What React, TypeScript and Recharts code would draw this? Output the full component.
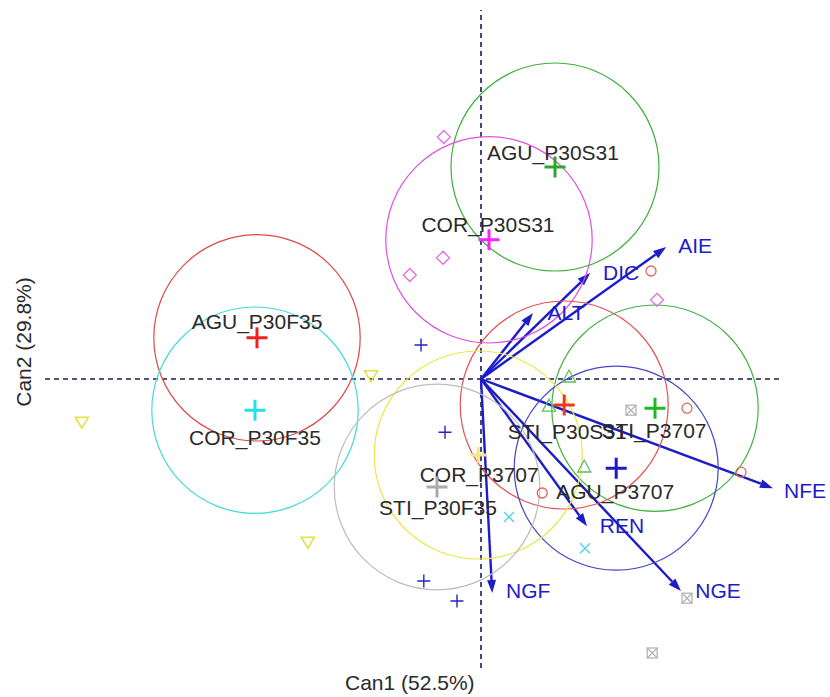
import { ScatterChart, Scatter, XAxis, YAxis, ReferenceLine } from 'recharts';

// canonical scores (Can1, Can2)
const groupNames = ['AGU_P30S31', 'COR_P30S31', 'AGU_P30F35', 'COR_P30F35', 'STI_P30S31', 'STI_P3707', 'AGU_P3707', 'COR_P3707', 'STI_P30F35'];
const groupCan1 = [1.85, 0.2, -5.6, -5.65, 2.08, 4.35, 3.38, -0.07, -1.1];
const groupCan2 = [5.3, 3.48, 1.03, -0.78, -0.65, -0.73, -2.23, -1.9, -2.7];
const groupRadius = [2.6, 2.58, 2.58, 2.58, 2.6, 2.58, 2.55, 2.6, 2.57];

const magentaObs = [
  { x: -0.93, y: 6.05 },
  { x: -1.78, y: 2.6 },
  { x: -0.95, y: 3.03 },
  { x: 4.4, y: 1.98 },
];
const greenObs = [
  { x: 2.2, y: 0.05 },
  { x: 1.7, y: -0.68 },
  { x: 2.58, y: -2.2 },
];
const redObs = [
  { x: 4.25, y: 2.7 },
  { x: 5.15, y: -0.73 },
  { x: 6.5, y: -2.33 },
  { x: 1.53, y: -2.85 },
];
const blueObs = [
  { x: -1.5, y: 0.85 },
  { x: -0.9, y: -1.33 },
  { x: -1.43, y: -5.05 },
  { x: -0.6, y: -5.55 },
];
const yellowObs = [
  { x: -2.75, y: 0.08 },
  { x: -9.98, y: -1.08 },
  { x: -4.33, y: -4.08 },
];
const cyanObs = [
  { x: 0.7, y: -3.45 },
  { x: 2.6, y: -4.23 },
];
const grayObs = [
  { x: 3.75, y: -0.78 },
  { x: 5.15, y: -5.48 },
  { x: 4.28, y: -6.85 },
];

const variableNames = ['AIE', 'DIC', 'ALT', 'NFE', 'NGE', 'REN', 'NGF'];
const variableCan1 = [4.63, 2.73, 1.3, 7.3, 5.0, 2.65, 0.28];
const variableCan2 = [3.3, 2.65, 1.65, -2.73, -5.3, -3.68, -5.35];

const axisXRange = [-10.9, 7.475];
const axisYRange = [-7.225, 9.225];

// layout
const W = 830;
const H = 697;
const X_MIN = -12.025;
const X_MAX = 8.725;
const Y_MIN = -7.95;
const Y_MAX = 9.475;
const PPU = W / (X_MAX - X_MIN);
const FONT = '"Liberation Sans", Arial, sans-serif';
const ARROW = '#1c1cc8';

const groupStyle: Record<string, { circle: string; mark: string; size: number; dx: number; dy: number }> = {
  AGU_P30S31: { circle: '#3fae3f', mark: '#2aa82a', size: 10.5, dx: -2, dy: -15 },
  COR_P30S31: { circle: '#e050e0', mark: '#ff20ff', size: 10.5, dx: -1, dy: -15 },
  AGU_P30F35: { circle: '#e04848', mark: '#ee2020', size: 10.5, dx: 0, dy: -16 },
  COR_P30F35: { circle: '#40dcdc', mark: '#20e0e8', size: 10.5, dx: 0, dy: 27 },
  STI_P30S31: { circle: '#e65050', mark: '#ee3a1c', size: 10.5, dx: 3, dy: 26 },
  STI_P3707: { circle: '#44b044', mark: '#20b820', size: 10.5, dx: -1, dy: 22 },
  AGU_P3707: { circle: '#4545c8', mark: '#1a1acc', size: 10.5, dx: -1, dy: 23 },
  COR_P3707: { circle: '#e8e84c', mark: '#f6e680', size: 8, dx: 1, dy: 19 },
  STI_P30F35: { circle: '#bcbcbc', mark: '#ababab', size: 10.5, dx: 1, dy: 20 },
};

const varLabelOffset: Record<string, [number, number]> = {
  AIE: [29, -2],
  DIC: [31, -1],
  ALT: [33, -1],
  NFE: [32, 2],
  NGE: [37, -1],
  REN: [35, -1],
  NGF: [36, -3],
};

const groups = groupNames.map((name, i) => ({ name, x: groupCan1[i], y: groupCan2[i], r: groupRadius[i] }));
const variables = variableNames.map((name, i) => ({ name, x: variableCan1[i], y: variableCan2[i] }));

const plusPath = (cx: number, cy: number, s: number) => `M${cx - s},${cy}H${cx + s}M${cx},${cy - s}V${cy + s}`;

const Diamond = (p: any) => (
  <path d={`M${p.cx},${p.cy - 6.5}L${p.cx + 6.5},${p.cy}L${p.cx},${p.cy + 6.5}L${p.cx - 6.5},${p.cy}Z`} fill="none" stroke="#e070e0" strokeWidth={1.3} />
);
const TriUp = (p: any) => (
  <path d={`M${p.cx},${p.cy - 7}L${p.cx + 6.5},${p.cy + 5}L${p.cx - 6.5},${p.cy + 5}Z`} fill="none" stroke="#5cc05c" strokeWidth={1.3} />
);
const TriDown = (p: any) => (
  <path d={`M${p.cx - 6.5},${p.cy - 5}L${p.cx + 6.5},${p.cy - 5}L${p.cx},${p.cy + 6}Z`} fill="none" stroke="#e6e040" strokeWidth={1.6} />
);
const OpenCircle = (p: any) => <circle cx={p.cx} cy={p.cy} r={5} fill="none" stroke="#e06858" strokeWidth={1.3} />;
const SmallPlus = (p: any) => <path d={plusPath(p.cx, p.cy, 6.5)} stroke="#2424c4" strokeWidth={1.4} />;
const Cross = (p: any) => (
  <path d={`M${p.cx - 5},${p.cy - 5}L${p.cx + 5},${p.cy + 5}M${p.cx + 5},${p.cy - 5}L${p.cx - 5},${p.cy + 5}`} stroke="#50d4e8" strokeWidth={1.4} />
);
const BoxX = (p: any) => (
  <g stroke="#b4b4b4" strokeWidth={1.3} fill="none">
    <rect x={p.cx - 5} y={p.cy - 5} width={10} height={10} />
    <path d={`M${p.cx - 5},${p.cy - 5}L${p.cx + 5},${p.cy + 5}M${p.cx + 5},${p.cy - 5}L${p.cx - 5},${p.cy + 5}`} />
  </g>
);

const GroupCircle = (p: any) => (
  <circle cx={p.cx} cy={p.cy} r={p.payload.r * PPU} fill="none" stroke={groupStyle[p.payload.name].circle} strokeWidth={1.2} />
);
const GroupMark = (p: any) => {
  const st = groupStyle[p.payload.name];
  return <path d={plusPath(p.cx, p.cy, st.size)} stroke={st.mark} strokeWidth={3} />;
};
const GroupLabel = (p: any) => {
  const st = groupStyle[p.payload.name];
  return (
    <text x={p.cx + st.dx} y={p.cy + st.dy} textAnchor="middle" dominantBaseline="central" fontSize={21} fontFamily={FONT} fill="#2a2a2a">
      {p.payload.name}
    </text>
  );
};
const VarLabel = (p: any) => {
  const [dx, dy] = varLabelOffset[p.payload.name];
  return (
    <text x={p.cx + dx} y={p.cy + dy} textAnchor="middle" dominantBaseline="central" fontSize={21} fontFamily={FONT} fill={ARROW}>
      {p.payload.name}
    </text>
  );
};

const ArrowShape = (p: any) => {
  const { x1, y1, x2, y2 } = p;
  const a = Math.atan2(y2 - y1, x2 - x1);
  const len = 13;
  const hw = 4.5;
  const bx = x2 - len * Math.cos(a);
  const by = y2 - len * Math.sin(a);
  const px = -Math.sin(a) * hw;
  const py = Math.cos(a) * hw;
  return (
    <g>
      <line x1={x1} y1={y1} x2={bx} y2={by} stroke={ARROW} strokeWidth={2.4} />
      <path d={`M${x2},${y2}L${bx + px},${by + py}L${bx - px},${by - py}Z`} fill={ARROW} />
    </g>
  );
};

export default function App() {
  return (
    <div style={{ width: W, height: H, background: '#fff', position: 'relative' }}>
      <style>{`body{margin:0}`}</style>
      <ScatterChart width={W} height={H} margin={{ top: 0, right: 0, bottom: 0, left: 0 }}>
        <XAxis type="number" dataKey="x" domain={[X_MIN, X_MAX]} allowDataOverflow hide />
        <YAxis type="number" dataKey="y" domain={[Y_MIN, Y_MAX]} allowDataOverflow hide />
        <ReferenceLine
          segment={[{ x: 0, y: axisYRange[0] }, { x: 0, y: axisYRange[1] }]}
          stroke="#1a1a5e"
          strokeWidth={1.6}
          strokeDasharray="5 4"
        />
        <ReferenceLine
          segment={[{ x: axisXRange[0], y: 0 }, { x: axisXRange[1], y: 0 }]}
          stroke="#1a1a5e"
          strokeWidth={1.6}
          strokeDasharray="5 4"
        />
        <Scatter data={groups} shape={GroupCircle} isAnimationActive={false} />
        <Scatter data={magentaObs} shape={Diamond} isAnimationActive={false} />
        <Scatter data={greenObs} shape={TriUp} isAnimationActive={false} />
        <Scatter data={redObs} shape={OpenCircle} isAnimationActive={false} />
        <Scatter data={blueObs} shape={SmallPlus} isAnimationActive={false} />
        <Scatter data={yellowObs} shape={TriDown} isAnimationActive={false} />
        <Scatter data={cyanObs} shape={Cross} isAnimationActive={false} />
        <Scatter data={grayObs} shape={BoxX} isAnimationActive={false} />
        <Scatter data={groups} shape={GroupLabel} isAnimationActive={false} />
        <Scatter data={groups} shape={GroupMark} isAnimationActive={false} />
        {variables.map((v) => (
          <ReferenceLine key={v.name} segment={[{ x: 0, y: 0 }, { x: v.x, y: v.y }]} shape={ArrowShape} />
        ))}
        <Scatter data={variables} shape={VarLabel} isAnimationActive={false} />
      </ScatterChart>
      <div style={{ position: 'absolute', left: 345, top: 671, fontFamily: FONT, fontSize: 21, color: '#2a2a2a', whiteSpace: 'nowrap' }}>
        Can1 (52.5%)
      </div>
      <div
        style={{
          position: 'absolute',
          left: 24,
          top: 342,
          transform: 'translate(-50%, -50%) rotate(-90deg)',
          fontFamily: FONT,
          fontSize: 21,
          color: '#2a2a2a',
          whiteSpace: 'nowrap',
        }}
      >
        Can2 (29.8%)
      </div>
    </div>
  );
}
